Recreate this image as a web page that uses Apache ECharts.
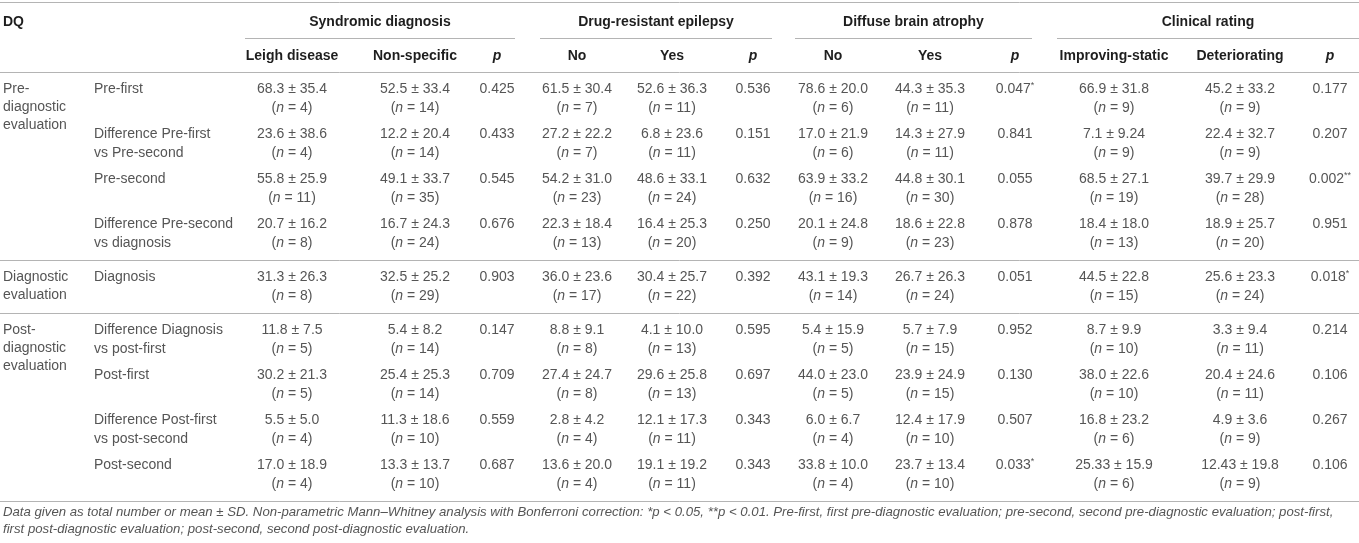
<!DOCTYPE html>
<html>
<head>
<meta charset="utf-8">
<title>DQ table</title>
<script src="https://cdn.jsdelivr.net/npm/echarts@6/dist/echarts.min.js"></script>
<style>
  html, body { margin: 0; padding: 0; background: #fff; }
  #main { width: 1359px; height: 543px; }
</style>
</head>
<body>
<div id="main"></div>
<script>
// ---- table content ----
const groupNames = ['Syndromic diagnosis', 'Drug-resistant epilepsy', 'Diffuse brain atrophy', 'Clinical rating'];
const subHeaders = ['Leigh disease', 'Non-specific', 'p', 'No', 'Yes', 'p', 'No', 'Yes', 'p', 'Improving-static', 'Deteriorating', 'p'];
const phaseNames = [['Pre-', 'diagnostic', 'evaluation'], ['Diagnostic', 'evaluation'], ['Post-', 'diagnostic', 'evaluation']];
const phaseRowCounts = [4, 1, 4];
const rowLabels = [
  ['Pre-first'],
  ['Difference Pre-first', 'vs Pre-second'],
  ['Pre-second'],
  ['Difference Pre-second', 'vs diagnosis'],
  ['Diagnosis'],
  ['Difference Diagnosis', 'vs post-first'],
  ['Post-first'],
  ['Difference Post-first', 'vs post-second'],
  ['Post-second']
];
// columns: Leigh, Non-specific, DRE No, DRE Yes, Atrophy No, Atrophy Yes, Improving-static, Deteriorating
const means = [
  ['68.3', '52.5', '61.5', '52.6', '78.6', '44.3', '66.9', '45.2'],
  ['23.6', '12.2', '27.2', '6.8', '17.0', '14.3', '7.1', '22.4'],
  ['55.8', '49.1', '54.2', '48.6', '63.9', '44.8', '68.5', '39.7'],
  ['20.7', '16.7', '22.3', '16.4', '20.1', '18.6', '18.4', '18.9'],
  ['31.3', '32.5', '36.0', '30.4', '43.1', '26.7', '44.5', '25.6'],
  ['11.8', '5.4', '8.8', '4.1', '5.4', '5.7', '8.7', '3.3'],
  ['30.2', '25.4', '27.4', '29.6', '44.0', '23.9', '38.0', '20.4'],
  ['5.5', '11.3', '2.8', '12.1', '6.0', '12.4', '16.8', '4.9'],
  ['17.0', '13.3', '13.6', '19.1', '33.8', '23.7', '25.33', '12.43']
];
const sds = [
  ['35.4', '33.4', '30.4', '36.3', '20.0', '35.3', '31.8', '33.2'],
  ['38.6', '20.4', '22.2', '23.6', '21.9', '27.9', '9.24', '32.7'],
  ['25.9', '33.7', '31.0', '33.1', '33.2', '30.1', '27.1', '29.9'],
  ['16.2', '24.3', '18.4', '25.3', '24.8', '22.8', '18.0', '25.7'],
  ['26.3', '25.2', '23.6', '25.7', '19.3', '26.3', '22.8', '23.3'],
  ['7.5', '8.2', '9.1', '10.0', '15.9', '7.9', '9.9', '9.4'],
  ['21.3', '25.3', '24.7', '25.8', '23.0', '24.9', '22.6', '24.6'],
  ['5.0', '18.6', '4.2', '17.3', '6.7', '17.9', '23.2', '3.6'],
  ['18.9', '13.7', '20.0', '19.2', '10.0', '13.4', '15.9', '19.8']
];
const ns = [
  [4, 14, 7, 11, 6, 11, 9, 9],
  [4, 14, 7, 11, 6, 11, 9, 9],
  [11, 35, 23, 24, 16, 30, 19, 28],
  [8, 24, 13, 20, 9, 23, 13, 20],
  [8, 29, 17, 22, 14, 24, 15, 24],
  [5, 14, 8, 13, 5, 15, 10, 11],
  [5, 14, 8, 13, 5, 15, 10, 11],
  [4, 10, 4, 11, 4, 10, 6, 9],
  [4, 10, 4, 11, 4, 10, 6, 9]
];
const pValues = [
  ['0.425', '0.536', '0.047*', '0.177'],
  ['0.433', '0.151', '0.841', '0.207'],
  ['0.545', '0.632', '0.055', '0.002**'],
  ['0.676', '0.250', '0.878', '0.951'],
  ['0.903', '0.392', '0.051', '0.018*'],
  ['0.147', '0.595', '0.952', '0.214'],
  ['0.709', '0.697', '0.130', '0.106'],
  ['0.559', '0.343', '0.507', '0.267'],
  ['0.687', '0.343', '0.033*', '0.106']
];
const footnotes = [
  'Data given as total number or mean \u00b1 SD. Non-parametric Mann\u2013Whitney analysis with Bonferroni correction: *p < 0.05, **p < 0.01. Pre-first, first pre-diagnostic evaluation; pre-second, second pre-diagnostic evaluation; post-first,',
  'first post-diagnostic evaluation; post-second, second post-diagnostic evaluation.'
];

// ---- layout (pixels in the 1359 x 543 frame) ----
const W = 1359, H = 543;
const PHASE_X = 3, LABEL_X = 94;
const COL_X = [292, 415, 497, 577, 672, 753, 833, 930, 1015, 1114, 1240, 1330];
const GROUP_SPAN = [[245, 515], [540, 772], [795, 1032], [1057, W]];
const Y_GROUP = 22, Y_UNDER = 38, Y_SUB = 56, Y_HEAD_RULE = 72;
const ROW_STEP = 45, LINE_STEP = 19, FIRST_OFF = 17, LAST_OFF = 36;

const FONT = '"Liberation Sans", Arial, Helvetica, sans-serif';
const BODY = '#555';
const HEAD = '#1e1e1e';
const RULE = '#b4b4b4';

// every token gets its own style so the line stays centred
const rich = {
  a: { align: 'center', fontSize: 14, fill: BODY, fontFamily: FONT },
  i: { align: 'center', fontStyle: 'italic', fontSize: 14, fill: BODY, fontFamily: FONT },
  s: { align: 'center', fontSize: 9, fill: BODY, fontFamily: FONT, verticalAlign: 'top', padding: [0, 0, 6, 0] }
};

// build cells and rules
const cells = [];
const rules = [[0, W, 2], [0, W, Y_HEAD_RULE]];

cells.push({ v: [PHASE_X, Y_GROUP], t: 'DQ', head: true, align: 'left' });
groupNames.forEach(function (g, i) {
  const sp = GROUP_SPAN[i];
  cells.push({ v: [(sp[0] + sp[1]) / 2, Y_GROUP], t: g, head: true });
  rules.push([sp[0], sp[1], Y_UNDER]);
});
subHeaders.forEach(function (h, i) {
  cells.push({ v: [COL_X[i], Y_SUB], t: h, head: true, italic: h === 'p' });
});

let lineY = Y_HEAD_RULE;
let r = 0;
phaseNames.forEach(function (pn, pi) {
  const first = lineY + FIRST_OFF;
  pn.forEach(function (s, k) {
    cells.push({ v: [PHASE_X, first + k * 18], t: s, align: 'left' });
  });
  for (let j = 0; j < phaseRowCounts[pi]; j++, r++) {
    const y = first + j * ROW_STEP;
    rowLabels[r].forEach(function (s, k) {
      cells.push({ v: [LABEL_X, y + k * LINE_STEP], t: s, align: 'left' });
    });
    for (let g = 0; g < 4; g++) {
      for (let k = 0; k < 2; k++) {
        const c = g * 2 + k;
        const x = COL_X[g * 3 + k];
        cells.push({ v: [x, y], t: means[r][c] + ' \u00b1 ' + sds[r][c] });
        cells.push({ v: [x, y + LINE_STEP], t: '{a|(}{i|n}{a| = ' + ns[r][c] + ')}' });
      }
      const p = pValues[r][g];
      const stars = p.replace(/[^*]/g, '');
      const base = p.replace(/\*/g, '');
      cells.push({ v: [COL_X[g * 3 + 2], y], t: stars ? '{a|' + base + '}{s|' + stars + '}' : base });
    }
  }
  lineY = first + (phaseRowCounts[pi] - 1) * ROW_STEP + LAST_OFF;
  rules.push([0, W, lineY]);
});

footnotes.forEach(function (f, k) {
  cells.push({ v: [PHASE_X, lineY + 11 + k * 17], t: f, align: 'left', note: true });
});

const chart = echarts.init(document.getElementById('main'));
chart.setOption({
  backgroundColor: '#ffffff',
  animation: false,
  grid: { left: 0, right: 0, top: 0, bottom: 0 },
  xAxis: { type: 'value', min: 0, max: W, show: false },
  yAxis: { type: 'value', min: 0, max: H, inverse: true, show: false },
  series: [
    {
      type: 'custom',
      clip: false,
      silent: true,
      data: rules.map(function (d) { return [d[0], d[1], d[2]]; }),
      renderItem: function (params, api) {
        const a = api.coord([api.value(0), api.value(2)]);
        const b = api.coord([api.value(1), api.value(2)]);
        return {
          type: 'line',
          shape: { x1: a[0], y1: Math.round(a[1]) + 0.5, x2: b[0], y2: Math.round(b[1]) + 0.5 },
          style: { stroke: RULE, lineWidth: 1 }
        };
      }
    },
    {
      type: 'custom',
      clip: false,
      silent: true,
      data: cells.map(function (c) { return c.v; }),
      renderItem: function (params, api) {
        const c = cells[params.dataIndex];
        const p = api.coord([api.value(0), api.value(1)]);
        return {
          type: 'text',
          x: p[0],
          y: p[1],
          style: {
            text: c.t,
            rich: rich,
            fontFamily: FONT,
            fontSize: c.note ? 13.2 : 14,
            fontWeight: c.head ? 'bold' : 'normal',
            fontStyle: (c.italic || c.note) ? 'italic' : 'normal',
            fill: c.head ? HEAD : BODY,
            align: c.align || 'center',
            verticalAlign: 'middle'
          }
        };
      }
    }
  ]
});
</script>
</body>
</html>
